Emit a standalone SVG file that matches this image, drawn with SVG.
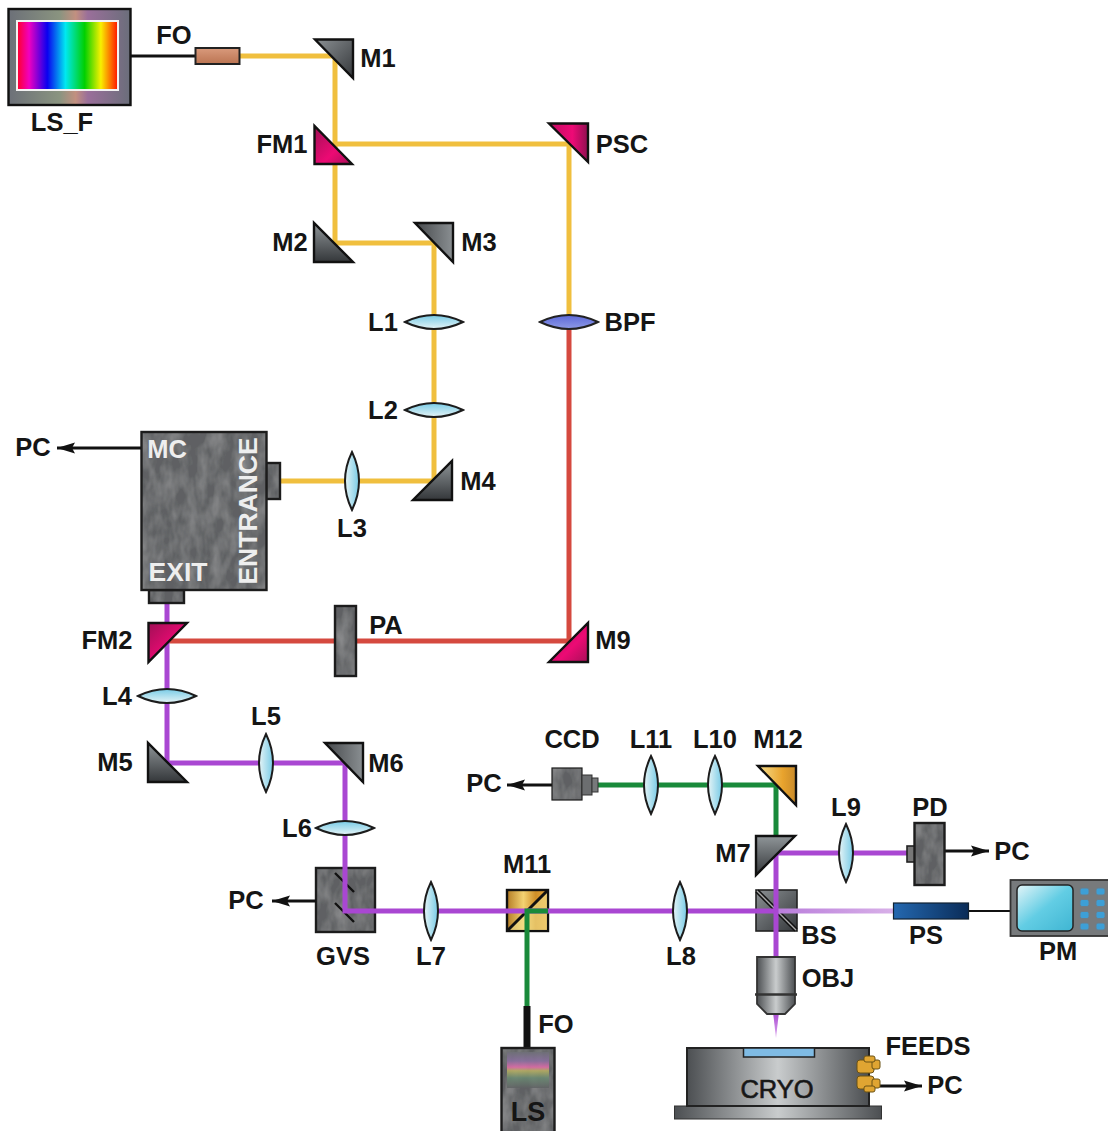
<svg xmlns="http://www.w3.org/2000/svg" width="1108" height="1131" viewBox="0 0 1108 1131">
<style>
text{font-family:"Liberation Sans",Arial,sans-serif;font-weight:700;font-size:25.5px;fill:#151515;text-anchor:middle}
text.w{fill:#eeeeee}
.m{stroke:#111;stroke-width:2.4;stroke-linejoin:miter}
.g{fill:url(#gray)}.gr{fill:url(#grayR)}.gd{fill:url(#grayD)}
.p{fill:url(#pink)}.pr{fill:url(#pinkR)}
.t{fill:#5f6163}
.o{fill:none;stroke:#1c1c1c;stroke-width:2.4}
.y,.r,.v,.n,.k{fill:none}
.y{stroke:#f0bf3e;stroke-width:5}
.r{stroke:#d5493f;stroke-width:5}
.v{stroke:#a947d2;stroke-width:5}
.n{stroke:#198a3a;stroke-width:5}
.k{stroke:#111;stroke-width:3}
.a{stroke:#111;stroke-width:2.8;fill:none;marker-end:url(#ah)}
.lens{fill:url(#lensG);stroke:#1c1c1c;stroke-width:2}
.lensV{fill:url(#lensV);stroke:#1c1c1c;stroke-width:2}
.key{fill:#3d9fd6;stroke:#6d7d88;stroke-width:1}
</style>
<defs>
<marker id="ah" markerUnits="userSpaceOnUse" markerWidth="20" markerHeight="12" refX="18" refY="6" orient="auto"><path d="M0 0.500L18 6L0 11.500L3 6Z" fill="#111"/></marker>
<linearGradient id="gray" x1="0" y1="0" x2="1" y2="1"><stop offset="0" stop-color="#8b9093"/><stop offset="1" stop-color="#35383b"/></linearGradient>
<linearGradient id="grayR" x1="0" y1="0" x2="1" y2="0"><stop offset="0" stop-color="#45484b"/><stop offset="1" stop-color="#8a8f92"/></linearGradient>
<linearGradient id="grayD" x1="0" y1="0" x2="0" y2="1"><stop offset="0" stop-color="#8f9598"/><stop offset="1" stop-color="#34373a"/></linearGradient>
<linearGradient id="pink" x1="0" y1="0" x2="1" y2="1"><stop offset="0" stop-color="#a00f55"/><stop offset=".6" stop-color="#ec0a74"/><stop offset="1" stop-color="#a80f58"/></linearGradient>
<linearGradient id="pinkR" x1="0" y1="0" x2="1" y2="0"><stop offset="0" stop-color="#c30c62"/><stop offset=".6" stop-color="#ee0a76"/><stop offset="1" stop-color="#8e1050"/></linearGradient>
<linearGradient id="gold" x1="0" y1="0" x2="1" y2="0"><stop offset="0" stop-color="#f7e08f"/><stop offset=".65" stop-color="#e8a32d"/><stop offset="1" stop-color="#c88a2a"/></linearGradient>
<linearGradient id="goldC" x1="0" y1="0" x2="1" y2="0"><stop offset="0" stop-color="#b57d25"/><stop offset=".4" stop-color="#f3d272"/><stop offset=".7" stop-color="#d08f28"/><stop offset="1" stop-color="#e9a83c"/></linearGradient>
<linearGradient id="lensG" x1="0" y1="0" x2="0" y2="1"><stop offset="0" stop-color="#78cbe6"/><stop offset="1" stop-color="#e6f4f6"/></linearGradient>
<linearGradient id="lensV" x1="0" y1="0" x2="1" y2="0"><stop offset="0" stop-color="#e6f4f6"/><stop offset="1" stop-color="#78cbe6"/></linearGradient>
<linearGradient id="bpfG" x1="0" y1="0" x2="0" y2="1"><stop offset="0" stop-color="#5c68d8"/><stop offset="1" stop-color="#8e9ae6"/></linearGradient>
<linearGradient id="rainbow" x1="0" y1="0" x2="1" y2="0"><stop offset="0" stop-color="#ff0028"/><stop offset=".12" stop-color="#f000c0"/><stop offset=".3" stop-color="#0a00f0"/><stop offset=".48" stop-color="#00e8f0"/><stop offset=".67" stop-color="#00d000"/><stop offset=".83" stop-color="#f8f000"/><stop offset="1" stop-color="#ff1000"/></linearGradient>
<linearGradient id="frame" x1="0" y1="0" x2="1" y2="0"><stop offset="0" stop-color="#6c7078"/><stop offset=".42" stop-color="#8a9480"/><stop offset=".55" stop-color="#c29080"/><stop offset=".65" stop-color="#9a6f9a"/><stop offset="1" stop-color="#6a6e7a"/></linearGradient>
<linearGradient id="lsG" x1="0" y1="0" x2="0" y2="1"><stop offset="0" stop-color="#6f7078"/><stop offset=".25" stop-color="#8a6ea0"/><stop offset=".42" stop-color="#e26aa8"/><stop offset=".52" stop-color="#b8b060"/><stop offset=".72" stop-color="#6a8a72"/><stop offset="1" stop-color="#5f6163"/></linearGradient>
<linearGradient id="ps" x1="0" y1="0" x2="1" y2="0"><stop offset="0" stop-color="#2468b0"/><stop offset="1" stop-color="#0a2c58"/></linearGradient>
<linearGradient id="fo" x1="0" y1="0" x2="0" y2="1"><stop offset="0" stop-color="#d99a7c"/><stop offset="1" stop-color="#bb7452"/></linearGradient>
<linearGradient id="obj" x1="0" y1="0" x2="1" y2="0"><stop offset="0" stop-color="#4c4f52"/><stop offset=".5" stop-color="#c9cccd"/><stop offset="1" stop-color="#4c4f52"/></linearGradient>
<linearGradient id="screen" x1="0" y1="0" x2="1" y2="1"><stop offset="0" stop-color="#e4f5f8"/><stop offset=".5" stop-color="#62cde4"/><stop offset="1" stop-color="#3fb5d2"/></linearGradient>
<linearGradient id="fade" x1="0" y1="0" x2="1" y2="0"><stop offset="0" stop-color="#b97ddb"/><stop offset="1" stop-color="#d8b0e8"/></linearGradient>
<linearGradient id="beamT" x1="0" y1="0" x2="0" y2="1"><stop offset="0" stop-color="#a947d2"/><stop offset="1" stop-color="#dba9ee"/></linearGradient>
<filter id="tex" x="0" y="0" width="100%" height="100%"><feTurbulence type="fractalNoise" baseFrequency=".08 .04" numOctaves="3" seed="4"/><feColorMatrix values="0 0 0 0 .48 0 0 0 0 .48 0 0 0 0 .49 .7 0 0 0 -.25"/><feComposite in2="SourceGraphic" operator="in"/><feBlend in2="SourceGraphic" mode="normal"/></filter>
<path id="lh" d="M-29 0Q0-14 29 0Q0 14-29 0Z"/>
<path id="lv" d="M0-29Q14 0 0 29Q-14 0 0-29Z"/>
</defs>

<g id="cubes">
<g id="n-GVS"><rect class="t" x="316" y="868" width="59" height="64" filter="url(#tex)"/><rect class="o" x="316" y="868" width="59" height="64"/><path d="M335 873L354 892M335 903L354 922" stroke="#111" stroke-width="2.400"/></g>
<g id="n-M11"><rect x="507" y="890" width="41" height="41" fill="url(#goldC)" stroke="#111" stroke-width="2.400"/><path d="M508 930L547 930L547 891Z" fill="#f4e28e" opacity=".6"/><path d="M507 931L548 890" stroke="#111" stroke-width="3"/></g>
<g id="n-BS"><rect x="756" y="890" width="41" height="41" fill="url(#gray)" stroke="#222" stroke-width="1.600"/><path d="M757 891L796 930" stroke="#111" stroke-width="4.500"/><path d="M757 891L796 930" stroke="#aaa" stroke-width="1.300"/></g>
</g>

<g id="connectors">
<path class="k" d="M130 56H195"/>
<path class="y" d="M239 56H335V243H434V481H279"/>
<path class="y" d="M335 144H569V322"/>
<path class="r" d="M569 322V641H167"/>
<path class="v" d="M167 603V763H345V911H527"/>
<path class="v" d="M527 911H776"/>
<path fill="url(#fade)" d="M776 908.500H893V913.500H776Z"/>
<path class="v" d="M776 853V960"/>
<path class="v" d="M776 853H908"/>
<path class="n" d="M598 785H776V838"/>
<path class="n" d="M527 1006V911H548"/>
<path fill="url(#beamT)" d="M773 1012H779L776 1038Z"/>
<path stroke="#111" stroke-width="7" d="M527 1006V1048"/>
<path class="k" d="M969 911H1011" style="stroke-width:2"/>
<path class="a" d="M141 448H57"/>
<path class="a" d="M316 901H272"/>
<path class="a" d="M552 785H507"/>
<path class="a" d="M944 851H989"/>
<path class="a" d="M880 1086H922"/>
</g>

<g id="n-LS_F"><rect x="8.500" y="9" width="122" height="96" fill="url(#frame)" stroke="#111" stroke-width="2.400"/><rect x="17" y="21" width="101" height="69" fill="url(#rainbow)" stroke="#f2f2f2" stroke-width="2"/><text x="62" y="131">LS_F</text></g>
<g id="n-FOtop"><rect x="195.500" y="48" width="44" height="16" fill="url(#fo)" stroke="#222" stroke-width="2"/><text x="174" y="44">FO</text></g>
<g id="n-M1"><path class="m g" d="M315 39.500H353V78Z"/><text x="378" y="67">M1</text></g>
<g id="n-FM1"><path class="m p" d="M314.500 126V164H352Z"/><text x="282" y="153">FM1</text></g>
<g id="n-PSC"><path class="m pr" d="M549 123.500H588V162Z"/><text x="622" y="153">PSC</text></g>
<g id="n-M2"><path class="m gd" d="M314 223V262H353Z"/><text x="290" y="251">M2</text></g>
<g id="n-M3"><path class="m gr" d="M415 223H453V262Z"/><text x="479" y="251">M3</text></g>
<g id="n-L1"><use href="#lh" class="lens" x="434" y="322"/><text x="383" y="331">L1</text></g>
<g id="n-L2"><use href="#lh" class="lens" x="434" y="410"/><text x="383" y="419">L2</text></g>
<g id="n-BPF"><path d="M540 322Q569 308 598 322Q569 336 540 322Z" fill="url(#bpfG)" stroke="#222" stroke-width="2"/><text x="630" y="331">BPF</text></g>
<g id="n-M4"><path class="m gd" d="M413 500H452V461Z"/><text x="478" y="490">M4</text></g>
<g id="n-L3"><use href="#lv" class="lensV" x="352" y="481"/><text x="352" y="537">L3</text></g>
<g id="n-MC">
<rect class="t" x="266" y="463" width="14" height="36" filter="url(#tex)"/><rect class="o" x="266" y="463" width="14" height="36"/>
<rect class="t" x="149" y="590" width="35" height="13" filter="url(#tex)"/><rect class="o" x="149" y="590" width="35" height="13"/>
<rect class="t" x="141.500" y="432" width="125" height="158" filter="url(#tex)"/><rect class="o" x="141.500" y="432" width="125" height="158"/>
<text class="w" x="167" y="458">MC</text><text class="w" x="178" y="581" style="font-size:26.500px">EXIT</text>
<text class="w" transform="translate(257 511) rotate(-90)" style="font-size:26.500px">ENTRANCE</text>
<text x="33" y="456">PC</text></g>
<g id="n-FM2"><path class="m p" d="M148.500 623H187L148.500 662Z"/><text x="107" y="649">FM2</text></g>
<g id="n-PA"><rect class="t" x="335" y="606" width="21" height="70" filter="url(#tex)"/><rect class="o" x="335" y="606" width="21" height="70"/><text x="386" y="634">PA</text></g>
<g id="n-M9"><path class="m p" d="M549 662H588V623Z"/><text x="613" y="649">M9</text></g>
<g id="n-L4"><use href="#lh" class="lens" x="167" y="696"/><text x="117" y="705">L4</text></g>
<g id="n-M5"><path class="m gd" d="M148 743V782H187Z"/><text x="115" y="771">M5</text></g>
<g id="n-L5"><use href="#lv" class="lensV" x="266" y="763"/><text x="266" y="725">L5</text></g>
<g id="n-M6"><path class="m gr" d="M325 743H363V782Z"/><text x="386" y="772">M6</text></g>
<g id="n-L6"><use href="#lh" class="lens" x="345" y="828"/><text x="297" y="837">L6</text></g>
<g id="n-GVSlabel"><text x="343" y="965">GVS</text><text x="246" y="909">PC</text></g>
<g id="n-L7"><use href="#lv" class="lensV" x="431" y="911"/><text x="431" y="965">L7</text></g>
<g id="n-M11label"><text x="527" y="873">M11</text></g>
<g id="n-L8"><use href="#lv" class="lensV" x="680" y="911"/><text x="681" y="965">L8</text></g>
<g id="n-BSlabel"><text x="819" y="944">BS</text></g>
<g id="n-M7"><path class="m gd" d="M756 836H795L756 875Z"/><text x="733" y="862">M7</text></g>
<g id="n-M12"><path class="m" fill="url(#gold)" d="M758 766H796V805Z"/><text x="778" y="748">M12</text></g>
<g id="n-L9"><use href="#lv" class="lensV" x="846" y="853"/><text x="846" y="816">L9</text></g>
<g id="n-L10"><use href="#lv" class="lensV" x="715" y="785"/><text x="715" y="748">L10</text></g>
<g id="n-L11"><use href="#lv" class="lensV" x="651" y="785"/><text x="651" y="748">L11</text></g>
<g id="n-CCD"><rect class="t" x="552" y="768" width="30" height="32" filter="url(#tex)"/><rect class="o" x="552" y="768" width="30" height="32" style="stroke-width:1.200"/><rect x="582" y="775" width="10" height="20" fill="#6c6e70" stroke="#333"/><rect x="592" y="778" width="6" height="14" fill="#77797b" stroke="#333"/><text x="572" y="748">CCD</text><text x="484" y="792">PC</text></g>
<g id="n-PD"><rect x="907" y="846" width="8" height="16" fill="#777" stroke="#222" stroke-width="1.600"/><rect class="t" x="914.500" y="823" width="30" height="62" filter="url(#tex)"/><rect class="o" x="914.500" y="823" width="30" height="62"/><text x="930" y="816">PD</text><text x="1012" y="860">PC</text></g>
<g id="n-PS"><rect x="893.500" y="903" width="75" height="16" fill="url(#ps)" stroke="#123" stroke-width="1.200"/><text x="926" y="944">PS</text></g>
<g id="n-PM"><rect x="1010.500" y="880" width="100" height="56" fill="#777a7c" stroke="#333" stroke-width="1.800"/><rect x="1017" y="885" width="56" height="46" rx="5" fill="url(#screen)" stroke="#222" stroke-width="1.500"/>
<rect class="key" x="1080" y="888" width="9" height="7" rx="2"/><rect class="key" x="1096" y="888" width="9" height="7" rx="2"/><rect class="key" x="1080" y="899.500" width="9" height="7" rx="2"/><rect class="key" x="1096" y="899.500" width="9" height="7" rx="2"/><rect class="key" x="1080" y="911.500" width="9" height="7" rx="2"/><rect class="key" x="1096" y="911.500" width="9" height="7" rx="2"/><rect class="key" x="1080" y="923" width="9" height="7" rx="2"/><rect class="key" x="1096" y="923" width="9" height="7" rx="2"/>
<text x="1058" y="960">PM</text></g>
<g id="n-OBJ"><path d="M757 957H795V995V1004L785 1014H767L757 1004Z" fill="url(#obj)" stroke="#333" stroke-width="1.800"/><path d="M755 994.500H797" stroke="#333" stroke-width="2.500"/><text x="828" y="987">OBJ</text></g>
<g id="n-CRYO"><rect x="674.500" y="1106" width="207" height="13" fill="url(#obj)" stroke="#333"/><rect x="687" y="1048" width="182" height="58" fill="url(#obj)" stroke="#222" stroke-width="2"/><rect x="743.500" y="1048" width="71" height="9" fill="#7fbbe4" stroke="#222" stroke-width="1.500"/><text x="777" y="1098" style="font-weight:400;stroke:#222;stroke-width:.7px">CRYO</text></g>
<g id="n-FEEDS"><g fill="#e0a532" stroke="#6b5215" stroke-width="1"><rect x="857" y="1060" width="17" height="13" rx="3"/><rect x="857" y="1076" width="17" height="13" rx="3"/><rect x="872" y="1060" width="8" height="9" rx="2"/><rect x="872" y="1079" width="8" height="9" rx="2"/><rect x="864" y="1056" width="11" height="6" rx="2"/><rect x="864" y="1086" width="11" height="6" rx="2"/></g><text x="928" y="1055">FEEDS</text><text x="945" y="1094">PC</text></g>
<g id="n-LS"><rect class="t" x="501.500" y="1048" width="53" height="90" filter="url(#tex)"/><rect class="o" x="501.500" y="1048" width="53" height="90"/><rect x="507" y="1052" width="42" height="36" fill="url(#lsG)" opacity=".85"/><text x="528" y="1121" style="font-size:27px">LS</text><text x="556" y="1033">FO</text></g>
</svg>
